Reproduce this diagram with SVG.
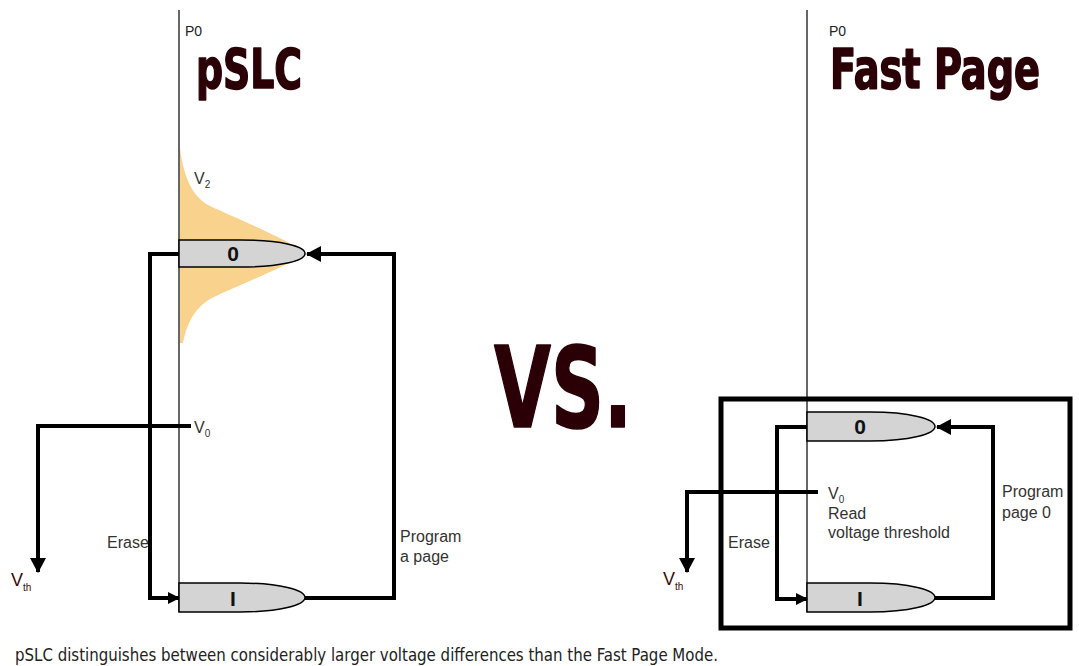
<svg xmlns="http://www.w3.org/2000/svg" width="1079" height="666" viewBox="0 0 1079 666">
  <style>
    .axis { stroke: #333; stroke-width: 1.5; fill: none; }
    .wire { stroke: #000; stroke-width: 4; fill: none; }
    .cell { fill: #d4d4d4; stroke: #000; stroke-width: 1.5; }
    .bit { font-family: "Liberation Sans", Arial, sans-serif; font-weight: bold; font-size: 21px; fill: #111; text-anchor: middle; }
    .lbl { font-family: "Liberation Sans", Arial, sans-serif; font-size: 16px; fill: #333; }
    .small { font-family: "Liberation Sans", Arial, sans-serif; font-size: 14px; fill: #222; }
    .sub { font-size: 10px; }
    .vth { font-family: "Liberation Sans", Arial, sans-serif; font-size: 18px; fill: #3a0808; }
    .title { font-family: "DejaVu Sans Condensed", "DejaVu Sans", sans-serif; font-weight: bold; fill: #2a0006; stroke: #2a0006; stroke-width: 1.6; stroke-linejoin: round; }
    .caption { font-family: "DejaVu Sans Condensed", "DejaVu Sans", sans-serif; font-size: 17px; fill: #222; }
  </style>
  <defs>
    <marker id="arrow" markerUnits="userSpaceOnUse" markerWidth="16" markerHeight="16" refX="14" refY="8" orient="auto">
      <path d="M0,0 L15,8 L0,16 Z" fill="#000"/>
    </marker>
    <marker id="arrowSmall" markerUnits="userSpaceOnUse" markerWidth="12" markerHeight="12" refX="11" refY="6" orient="auto">
      <path d="M0,0 L12,6 L0,12 Z" fill="#000"/>
    </marker>
  </defs>

  <!-- left panel: pSLC -->
  <g id="pslc-axis">
    <line class="axis" x1="179" y1="10" x2="179" y2="612"/>
    <text class="small" x="185" y="36">P0</text>
  </g>
  <g id="pslc-title">
    <text class="title" x="196" y="88" font-size="56" textLength="106" lengthAdjust="spacingAndGlyphs">pSLC</text>
  </g>
  <g id="pslc-distribution">
    <path d="M180,148 C183,172 190,196 210,206 C240,220 285,238 305,253 C285,268 240,284 210,299 C192,310 186,328 183,343 L180,343 Z" fill="#f9d38d"/>
    <text class="lbl" x="194" y="184">V<tspan class="sub" dy="4">2</tspan></text>
  </g>
  <g id="pslc-state0">
    <path class="cell" d="M179,240 H240 C280,240 305,246 305,253.5 C305,261 280,267 240,267 H179 Z"/>
    <text class="bit" x="233" y="261">0</text>
  </g>
  <g id="pslc-state1">
    <path class="cell" d="M179,583 H240 C280,583 305,590 305,597.5 C305,605 280,612 240,612 H179 Z"/>
    <text class="bit" x="233" y="606">I</text>
  </g>
  <g id="pslc-v0">
    <text class="lbl" x="194" y="433">V<tspan class="sub" dy="4">0</tspan></text>
  </g>
  <g id="pslc-vth">
    <text class="vth" x="11" y="586">V<tspan class="sub" dy="5">th</tspan></text>
  </g>
  <g id="pslc-labels">
    <text class="lbl" x="107" y="548">Erase</text>
    <text class="lbl" x="400" y="542">Program</text>
    <text class="lbl" x="400" y="562">a page</text>
  </g>

  <!-- centre -->
  <g id="versus">
    <text class="title" x="494" y="427" font-size="112" textLength="138" lengthAdjust="spacingAndGlyphs">VS.</text>
  </g>

  <!-- right panel: Fast Page -->
  <g id="fast-axis">
    <line class="axis" x1="807" y1="10" x2="807" y2="612"/>
    <text class="small" x="829" y="36">P0</text>
  </g>
  <g id="fast-title">
    <text class="title" x="830" y="88" font-size="56" textLength="210" lengthAdjust="spacingAndGlyphs">Fast Page</text>
  </g>
  <g id="fast-frame">
    <rect x="721" y="399" width="349" height="229" fill="none" stroke="#000" stroke-width="5"/>
  </g>
  <g id="fast-state0">
    <path class="cell" d="M807,412 H870 C910,412 935,419 935,426.5 C935,434 910,441 870,441 H807 Z"/>
    <text class="bit" x="860" y="434">0</text>
  </g>
  <g id="fast-state1">
    <path class="cell" d="M807,583 H870 C910,583 935,590 935,597.5 C935,605 910,612 870,612 H807 Z"/>
    <text class="bit" x="860" y="606">I</text>
  </g>
  <g id="fast-v0">
    <text class="lbl" x="828" y="499">V<tspan class="sub" dy="4">0</tspan></text>
    <text class="lbl" x="828" y="519">Read</text>
    <text class="lbl" x="828" y="538">voltage threshold</text>
  </g>
  <g id="fast-vth">
    <text class="vth" x="663" y="585">V<tspan class="sub" dy="5">th</tspan></text>
  </g>
  <g id="fast-labels">
    <text class="lbl" x="728" y="548">Erase</text>
    <text class="lbl" x="1002" y="497">Program</text>
    <text class="lbl" x="1002" y="518">page 0</text>
  </g>

  <!-- connectors -->
  <g id="connectors">
    <polyline class="wire" points="179,254 150,254 150,598 179,598" marker-end="url(#arrowSmall)"/>
    <polyline class="wire" points="305,598 394,598 394,254 307,254" marker-end="url(#arrow)"/>
    <polyline class="wire" points="191,426 38,426 38,572" marker-end="url(#arrow)"/>

    <polyline class="wire" points="807,427 777,427 777,599 807,599" marker-end="url(#arrowSmall)"/>
    <polyline class="wire" points="935,598 993,598 993,427 937,427" marker-end="url(#arrow)"/>
    <polyline class="wire" points="818,492 687,492 687,572" marker-end="url(#arrow)"/>
  </g>

  <g id="caption">
    <text class="caption" x="15" y="661" textLength="703" lengthAdjust="spacingAndGlyphs">pSLC distinguishes between considerably larger voltage differences than the Fast Page Mode.</text>
  </g>
</svg>
